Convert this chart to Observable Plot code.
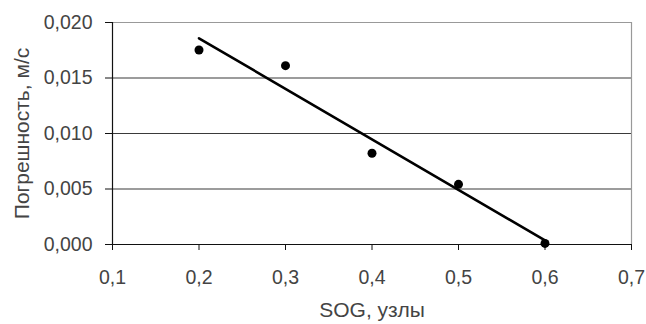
<!DOCTYPE html>
<html>
<head>
<meta charset="utf-8">
<script src="https://cdn.jsdelivr.net/npm/d3@7"></script>
<script src="https://cdn.jsdelivr.net/npm/@observablehq/plot@0.6"></script>
<style>
  html, body { margin: 0; padding: 0; background: #fff; }
  #chart svg { display: block; }
</style>
</head>
<body>
<div id="chart"></div>
<script>
const sog = [0.2, 0.3, 0.4, 0.5, 0.6];
const errorValues = [0.01752, 0.01611, 0.00822, 0.00542, 0.0001];
const xTicks = [0.1, 0.2, 0.3, 0.4, 0.5, 0.6, 0.7];
const yTicks = [0, 0.005, 0.010, 0.015, 0.020];
const xLabel = "SOG, узлы";
const yLabel = "Погрешность, м/с";

const data = sog.map((x, i) => ({x, y: errorValues[i]}));
const comma = (f) => (d) => d3.format(f)(d).replace(".", ",");
const textColor = "#444";

const chart = Plot.plot({
  width: 646,
  height: 324,
  marginLeft: 112,
  marginRight: 15,
  marginTop: 22,
  marginBottom: 80,
  style: {background: "#fff", fontFamily: "'Liberation Sans', Arial, sans-serif", fontSize: "19px", color: textColor},
  x: {domain: [0.1, 0.7]},
  y: {domain: [0, 0.02]},
  marks: [
    Plot.ruleY(yTicks.slice(1, 4), {stroke: "#3a3a3a", strokeWidth: 1.2}),
    Plot.ruleY([0.02], {stroke: "#999", strokeWidth: 1.2}),
    Plot.ruleX([0.7], {stroke: "#999", strokeWidth: 1.2}),
    Plot.axisX({ticks: xTicks, tickFormat: comma(".1f"), tickSize: 6, tickPadding: 20, label: null, stroke: "#111", fill: textColor, fontSize: 19.5}),
    Plot.axisY({ticks: yTicks, tickFormat: comma(".3f"), tickSize: 7, tickPadding: 13, label: null, stroke: "#111", fill: textColor, fontSize: 19.5}),
    Plot.ruleX([0.1], {stroke: "#111", strokeWidth: 1.2}),
    Plot.ruleY([0], {stroke: "#111", strokeWidth: 1.2}),
    Plot.linearRegressionY(data, {x: "x", y: "y", ci: 0, stroke: "#000", strokeWidth: 2.6}),
    Plot.dot(data, {x: "x", y: "y", r: 4.5, fill: "#000", stroke: "none"}),
    Plot.text([yLabel], {frameAnchor: "left", dx: -90, rotate: -90, textAnchor: "middle", lineAnchor: "middle", fontSize: 21, fill: textColor}),
    Plot.text([xLabel], {frameAnchor: "bottom", dy: 66, textAnchor: "middle", lineAnchor: "middle", fontSize: 21, fill: textColor})
  ]
});
document.getElementById("chart").appendChild(chart);
</script>
</body>
</html>
